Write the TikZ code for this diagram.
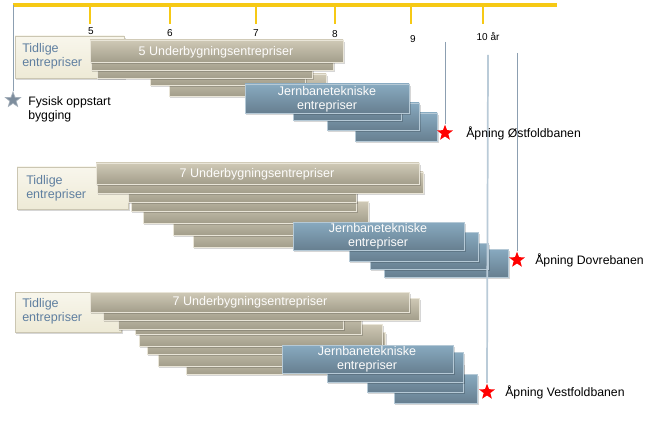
\documentclass[tikz,border=0pt]{standalone}
\usepackage{fontspec}
\setmainfont{Liberation Sans}
\usetikzlibrary{shapes.geometric}
\definecolor{tlYellow}{HTML}{F6C915}
\definecolor{tanTop}{HTML}{CFC9B6}
\definecolor{tanBot}{HTML}{A39E8B}
\definecolor{tanEdge}{HTML}{E9E5D8}
\definecolor{railTop}{HTML}{88AAC0}
\definecolor{railBot}{HTML}{677F90}
\definecolor{railEdge}{HTML}{B5C9D6}
\definecolor{earlyTop}{HTML}{F8F6EC}
\definecolor{earlyBot}{HTML}{EEEAD6}
\definecolor{earlyEdge}{HTML}{CBC6B2}
\definecolor{earlyText}{HTML}{5F7FA0}
\definecolor{msLine}{HTML}{8C9FB1}
\definecolor{msLight}{HTML}{BACBD8}
\definecolor{startStar}{HTML}{7D8D9D}
\tikzset{
  barshadow/.style={fill=black, opacity=0.16},
  tanfill/.style={top color=tanTop, bottom color=tanBot, draw=tanEdge, line width=0.6pt},
  railfill/.style={top color=railTop, bottom color=railBot, draw=railEdge, line width=0.6pt},
  earlyfill/.style={top color=earlyTop, bottom color=earlyBot, draw=earlyEdge, line width=0.6pt},
  bartext/.style={font=\fontsize{9.4}{10.5}\selectfont, text=white!95!tanTop, align=center, inner sep=0pt},
  earlytext/.style={font=\fontsize{9.4}{10.5}\selectfont, text=earlyText, align=left, anchor=west, inner sep=0pt},
  label/.style={font=\fontsize{9.2}{10.5}\selectfont, text=black, align=left, anchor=west, inner sep=0pt},
  ticklabel/.style={font=\fontsize{7.5}{8}\selectfont, text=black, inner sep=0pt},
  timeline/.style={draw=tlYellow, line width=2.4pt},
  tick/.style={draw=tlYellow, line width=1.6pt},
  msline/.style={draw=msLine, line width=0.6pt},
  mslight/.style={draw=msLight, line width=1.3pt},
  redstar/.style={star, star points=5, star point ratio=2.4, fill=red, minimum size=12.5pt, inner sep=0pt},
  greystar/.style={star, star points=5, star point ratio=2.4, fill=startStar, draw=startStar!70!white, line width=0.5pt, minimum size=12pt, inner sep=0pt}
}
\newcommand{\tanbar}[4]{%
  \fill[barshadow] (#1+1,#2+2) rectangle (#3+2,#4+2);
  \path[tanfill] (#1,#2) rectangle (#3,#4);}
\newcommand{\railbar}[4]{%
  \fill[barshadow] (#1+1,#2+2) rectangle (#3+2,#4+2);
  \path[railfill] (#1,#2) rectangle (#3,#4);}
\newcommand{\earlybox}[4]{%
  \fill[barshadow] (#1+1,#2+2) rectangle (#3+2,#4+2);
  \path[earlyfill] (#1,#2) rectangle (#3,#4);}
\begin{document}
\begin{tikzpicture}[x=0.75pt, y=-0.75pt]
  \useasboundingbox[fill=white] (0,0) rectangle (659,438);

  % time axis
  \draw[timeline] (13,5) -- (557,5);
  \foreach \tx/\lx/\ly/\tl in {90/91/31/5, 170/170/33/6, 256/256/33/7, 335/335/34/8, 411/413/39/9, 483/488/37/{10 år}}
    \draw[tick] (\tx,5) -- (\tx,24) node[ticklabel] at (\lx,\ly) {\tl};

  % group 1: Østfoldbanen
  \earlybox{15}{36}{124}{78}
  \node[earlytext] (early1) at (22,56) {Tidlige\\entrepriser};
  \foreach \a/\b/\c/\d in {169/74/326/96, 150/63/305/85, 97/56/312/78, 91/48/333/70, 90/40/343/62}
    \tanbar{\a}{\b}{\c}{\d};
  \node[bartext] (under1) at (216,52) {5 Underbygningsentrepriser};
  \foreach \a/\b/\c/\d in {355/113/437/141, 327/103/419/130, 293/92/401/120, 245/84/409/113}
    \railbar{\a}{\b}{\c}{\d};
  \node[bartext] (rail1) at (327,99) {Jernbanetekniske\\entrepriser};

  % group 2: Dovrebanen
  \earlybox{17}{167}{128}{209}
  \node[earlytext] (early2) at (26,188) {Tidlige\\entrepriser};
  \foreach \a/\b/\c/\d in {193/225/350/247, 173/213/360/235, 143/201/368/223, 131/189/356/211, 128/180/356/202, 97/172/423/193, 96/163/419/184}
    \tanbar{\a}{\b}{\c}{\d};
  \node[bartext] (under2) at (257,174) {7 Underbygningsentrepriser};
  \foreach \a/\b/\c/\d in {384/249/508/277, 370/243/488/269, 349/232/478/261, 293/222/464/250}
    \railbar{\a}{\b}{\c}{\d};
  \node[bartext] (rail2) at (378,236) {Jernbanetekniske\\entrepriser};

  % group 3: Vestfoldbanen
  \earlybox{15}{292}{121}{332}
  \node[earlytext] (early3) at (22,311) {Tidlige\\entrepriser};
  \foreach \a/\b/\c/\d in {186/352/370/374, 158/344/380/366, 147/332/385/354, 139/324/382/346, 135/312/361/334, 118/307/343/329, 103/298/419/320, 90/292/409/312}
    \tanbar{\a}{\b}{\c}{\d};
  \node[bartext] (under3) at (250,302) {7 Underbygningsentrepriser};
  \foreach \a/\b/\c/\d in {394/374/477/403, 367/363/463/392, 327/352/463/382, 282/345/453/373}
    \railbar{\a}{\b}{\c}{\d};
  \node[bartext] (rail3) at (367,359) {Jernbanetekniske\\entrepriser};

  % milestones
  \node[greystar] (start) at (13,100) {};
  \node[redstar] (ost) at (445,133) {};
  \node[redstar] (dovre) at (517,260) {};
  \node[redstar] (vest) at (487,392) {};
  \coordinate (startTop) at (13,5);
  \coordinate (ostTop) at (445,42);
  \coordinate (dovreTop) at (517,53);
  \coordinate (vestTop) at (488,55);
  \draw[msline] (startTop) -- (start.north);
  \draw[msline] (ostTop) -- (ost.north);
  \draw[msline] (dovreTop) -- (dovre.north);
  \draw[mslight] (vestTop) -- (vest.north);

  \node[label] (startLabel) at (28,109) {Fysisk oppstart\\bygging};
  \node[label] (ostLabel) at (466,133) {Åpning Østfoldbanen};
  \node[label] (dovreLabel) at (535,260) {Åpning Dovrebanen};
  \node[label] (vestLabel) at (505,392) {Åpning Vestfoldbanen};
\end{tikzpicture}
\end{document}
